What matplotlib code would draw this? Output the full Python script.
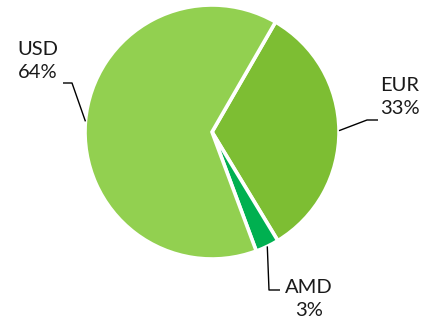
import numpy as np
import matplotlib
matplotlib.use("Agg")
import matplotlib.pyplot as plt

labels = ["EUR", "AMD", "USD"]
values = [33, 3, 64]
colors = ["#7DBE33", "#00B050", "#92D050"]
explode = [0.035, 0.04, 0.0]

W, H = 424, 323
fig = plt.figure(figsize=(W / 100, H / 100), dpi=100)
ax = fig.add_axes([0, 0, 1, 1])
ax.set_xlim(0, W)
ax.set_ylim(0, H)
ax.set_aspect("equal")
ax.axis("off")

cx, cy, r = 212, H - 132, 127
wedges, _ = ax.pie(values, colors=colors, startangle=60, counterclock=False,
                   center=(cx, cy), radius=r, explode=explode,
                   wedgeprops=dict(edgecolor="white", linewidth=2.6))
ax.set_xlim(0, W)
ax.set_ylim(0, H)

font = dict(family="Lato", fontsize=14.5, color="#1a1a1a")

def edge_point(w):
    a = np.deg2rad((w.theta1 + w.theta2) / 2)
    c = w.center
    return c[0] + w.r * np.cos(a), c[1] + w.r * np.sin(a)

def P(x, y):
    return x, H - y

eur, amd, usd = wedges

# EUR
x0, y0 = edge_point(eur)
pts = [(x0, y0), P(367, 120), P(378, 120)]
ax.plot(*zip(*pts), color="black", lw=1.0, solid_capstyle="butt")
ax.text(*P(400, 97), f"{labels[0]}\n{values[0]}%", ha="center", va="center",
        linespacing=1.45, **font)

# AMD
x0, y0 = edge_point(amd)
pts = [(x0, y0), P(269, 290), P(280, 290)]
ax.plot(*zip(*pts), color="black", lw=1.0, solid_capstyle="butt")
ax.text(*P(309, 299), f"{labels[1]}\n{values[1]}%", ha="center", va="center",
        linespacing=1.45, **font)

# USD
x0, y0 = edge_point(usd)
pts = [(x0, y0), P(72, 83), P(63, 83)]
ax.plot(*zip(*pts), color="black", lw=1.0, solid_capstyle="butt")
ax.text(*P(38, 61), f"{labels[2]}\n{values[2]}%", ha="center", va="center",
        linespacing=1.45, **font)

fig.savefig("out.png", dpi=100, facecolor="white")
